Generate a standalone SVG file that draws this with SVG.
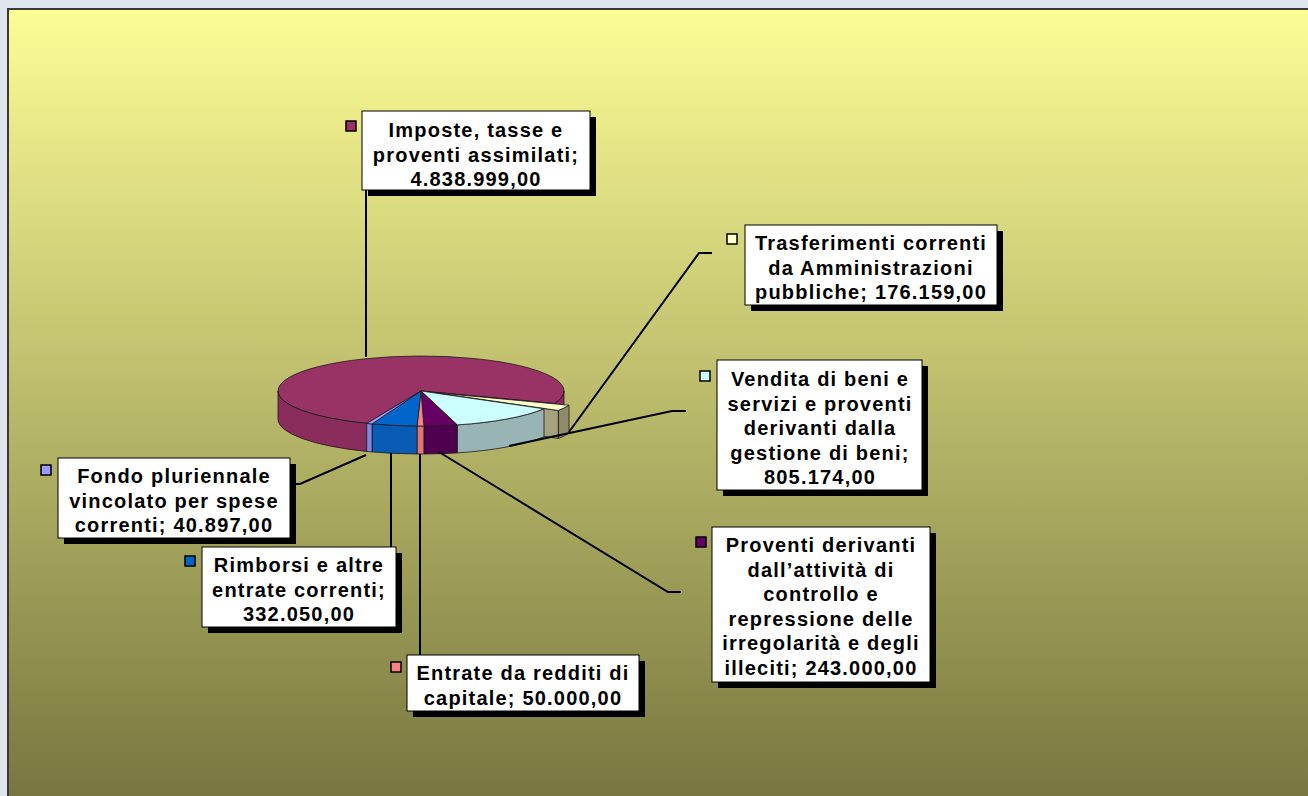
<svg xmlns="http://www.w3.org/2000/svg" width="1308" height="796" viewBox="0 0 1308 796">
<defs>
<linearGradient id="bg" x1="0" y1="9" x2="0" y2="796" gradientUnits="userSpaceOnUse">
<stop offset="0" stop-color="#fdfd96"/>
<stop offset="1" stop-color="#777740"/>
</linearGradient>
</defs>
<style>
.box{fill:#fff;stroke:#000;stroke-width:1}
.shadow{fill:#000}
.lbl{font-family:"Liberation Sans",Arial,sans-serif;font-size:20px;font-weight:bold;letter-spacing:1.2px;text-anchor:middle;fill:#000}
.mk{stroke:#000;stroke-width:1.5}
.leader{fill:none;stroke:#000;stroke-width:2}
.edge{stroke:#1a1a1a;stroke-width:0.8;stroke-linejoin:round}
</style>
<rect x="0" y="0" width="1308" height="796" fill="#dfe6ee"/>
<rect x="8" y="9" width="1310" height="800" fill="url(#bg)" stroke="#3a3a3a" stroke-width="2"/>

<g id="pie">
<g id="slice-imposte">
<path class="edge" d="M421,391 L366.7,423.4 A143,35 0 1 1 554.6,403.5 Z" fill="#993366"/>
<path class="edge" d="M366.7,423.4 A143,35 0 0 1 278,391 L278,419 A143,35 0 0 0 366.7,451.4 Z" fill="#8a2c5c"/>
<path class="edge" d="M564,391 A143,35 0 0 1 554.6,403.5 L554.6,431.5 A143,35 0 0 0 564,419 Z" fill="#8a2c5c"/>
<path class="edge" d="M421,391 L554.6,403.5 L554.6,431.5 L421,419 Z" fill="#7a2550"/>
</g>
<g id="slice-trasferimenti">
<path class="edge" d="M435.4,392.7 L558.4,410.5 L558.4,438.5 L435.4,420.7 Z" fill="#a6a27e"/>
<path class="edge" d="M569,405.2 A143,35 0 0 1 558.4,410.5 L558.4,438.5 A143,35 0 0 0 569,433.2 Z" fill="#8f8b6b"/>
<path class="edge" d="M435.4,392.7 L569,405.2 A143,35 0 0 1 558.4,410.5 Z" fill="#ffffcc"/>
</g>
<g id="slice-vendita">
<path class="edge" d="M544,408.8 A143,35 0 0 1 457.2,424.9 L457.2,452.9 A143,35 0 0 0 544,436.8 Z" fill="#98b4b4"/>
<path class="edge" d="M421,391 L544,408.8 A143,35 0 0 1 457.2,424.9 Z" fill="#ccffff"/>
</g>
<g id="slice-proventi">
<path class="edge" d="M457.2,424.9 A143,35 0 0 1 423.9,426 L423.9,454 A143,35 0 0 0 457.2,452.9 Z" fill="#4f004f"/>
<path class="edge" d="M421,391 L457.2,424.9 A143,35 0 0 1 423.9,426 Z" fill="#660066"/>
</g>
<g id="slice-entrate">
<path class="edge" d="M423.9,426 A143,35 0 0 1 417,426 L417,454 A143,35 0 0 0 423.9,454 Z" fill="#e57373"/>
<path class="edge" d="M421,391 L423.9,426 A143,35 0 0 1 417,426 Z" fill="#ff8080"/>
</g>
<g id="slice-rimborsi">
<path class="edge" d="M417,426 A143,35 0 0 1 372,423.9 L372,451.9 A143,35 0 0 0 417,454 Z" fill="#0a5bb5"/>
<path class="edge" d="M421,391 L417,426 A143,35 0 0 1 372,423.9 Z" fill="#0066cc"/>
</g>
<g id="slice-fondo">
<path class="edge" d="M372,423.9 A143,35 0 0 1 366.7,423.4 L366.7,451.4 A143,35 0 0 0 372,451.9 Z" fill="#8585e6"/>
<path class="edge" d="M421,391 L372,423.9 A143,35 0 0 1 366.7,423.4 Z" fill="#9999ff"/>
</g>
</g>

<g id="connectors">
<polyline class="leader" points="366,190 366,357"/>
<polyline class="leader" points="569,432 699,253 712,253"/>
<polyline class="leader" points="509,446 672,411 686,411"/>
<polyline class="leader" points="439,452 668,592 681,592"/>
<polyline class="leader" points="420,454 420,655"/>
<polyline class="leader" points="391,453 391,547"/>
<polyline class="leader" points="290,484 300,484 366,455"/>
</g>

<g id="label-imposte">
<rect class="shadow" x="368" y="117" width="228" height="79"/>
<rect class="box" x="362" y="111" width="228" height="79"/>
<rect class="mk" x="346" y="121" width="10" height="10" fill="#993366"/>
<text class="lbl" x="476" y="137">Imposte, tasse e</text>
<text class="lbl" x="476" y="161.5">proventi assimilati;</text>
<text class="lbl" x="476" y="186">4.838.999,00</text>
</g>

<g id="label-trasferimenti">
<rect class="shadow" x="751" y="231" width="252" height="80"/>
<rect class="box" x="745" y="225" width="252" height="80"/>
<rect class="mk" x="727" y="234" width="10" height="10" fill="#ffffcc"/>
<text class="lbl" x="871" y="250">Trasferimenti correnti</text>
<text class="lbl" x="871" y="274.5">da Amministrazioni</text>
<text class="lbl" x="871" y="299">pubbliche; 176.159,00</text>
</g>

<g id="label-vendita">
<rect class="shadow" x="723" y="366" width="205" height="130"/>
<rect class="box" x="717" y="360" width="205" height="130"/>
<rect class="mk" x="700" y="371" width="10" height="10" fill="#ccffff"/>
<text class="lbl" x="820" y="386">Vendita di beni e</text>
<text class="lbl" x="820" y="410.5">servizi e proventi</text>
<text class="lbl" x="820" y="435">derivanti dalla</text>
<text class="lbl" x="820" y="459.5">gestione di beni;</text>
<text class="lbl" x="820" y="484">805.174,00</text>
</g>

<g id="label-proventi">
<rect class="shadow" x="718" y="533" width="218" height="155"/>
<rect class="box" x="712" y="527" width="218" height="155"/>
<rect class="mk" x="696" y="537" width="10" height="10" fill="#660066"/>
<text class="lbl" x="821" y="552">Proventi derivanti</text>
<text class="lbl" x="821" y="576.5">dall’attività di</text>
<text class="lbl" x="821" y="601">controllo e</text>
<text class="lbl" x="821" y="625.5">repressione delle</text>
<text class="lbl" x="821" y="650">irregolarità e degli</text>
<text class="lbl" x="821" y="674.5">illeciti; 243.000,00</text>
</g>

<g id="label-entrate">
<rect class="shadow" x="413" y="661" width="232" height="56"/>
<rect class="box" x="407" y="655" width="232" height="56"/>
<rect class="mk" x="391" y="662" width="10" height="10" fill="#ff8080"/>
<text class="lbl" x="523" y="680">Entrate da redditi di</text>
<text class="lbl" x="523" y="704.5">capitale; 50.000,00</text>
</g>

<g id="label-rimborsi">
<rect class="shadow" x="208" y="553" width="194" height="80"/>
<rect class="box" x="202" y="547" width="194" height="80"/>
<rect class="mk" x="185" y="556" width="10" height="10" fill="#0066cc"/>
<text class="lbl" x="299" y="572">Rimborsi e altre</text>
<text class="lbl" x="299" y="596.5">entrate correnti;</text>
<text class="lbl" x="299" y="621">332.050,00</text>
</g>

<g id="label-fondo">
<rect class="shadow" x="64" y="464" width="232" height="80"/>
<rect class="box" x="58" y="458" width="232" height="80"/>
<rect class="mk" x="41" y="465" width="10" height="10" fill="#9999ff"/>
<text class="lbl" x="174" y="483">Fondo pluriennale</text>
<text class="lbl" x="174" y="507.5">vincolato per spese</text>
<text class="lbl" x="174" y="532">correnti; 40.897,00</text>
</g>
</svg>
